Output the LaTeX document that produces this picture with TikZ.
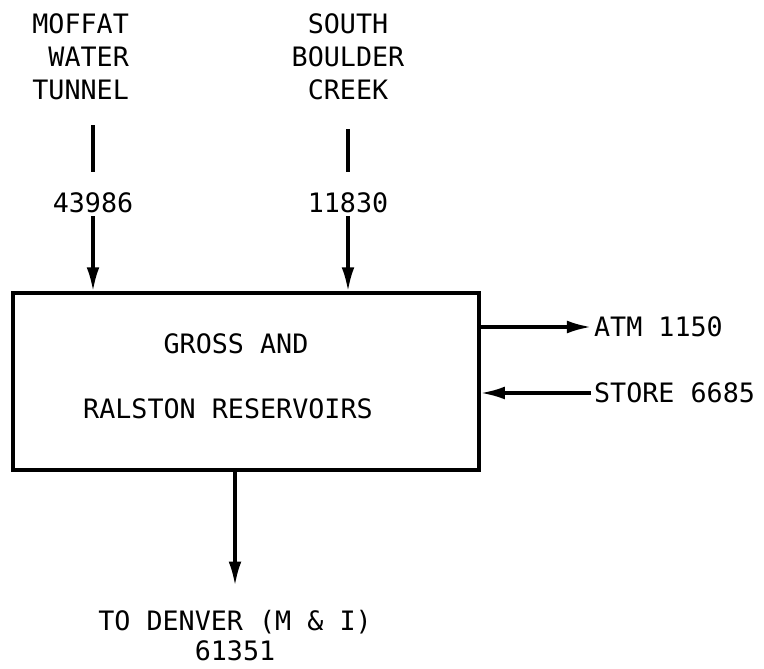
\documentclass[tikz,border=0pt]{standalone}
\usepackage{fontspec}
\usepackage{tikz}
\usetikzlibrary{arrows.meta}
\newfontfamily\typefont{DejaVu Sans Mono}

\tikzset{
    lbl/.style={font=\typefont\fontsize{19}{23.4}\selectfont, inner sep=2pt, align=center},
    pipe/.style={line width=2.2pt},
    flow/.style={line width=2.2pt, -{Latex[length=0.6cm, width=0.32cm]}}
}

\begin{document}
\begin{tikzpicture}[x=0.025cm, y=-0.025cm]
        % Page frame
        \useasboundingbox (0, 0) rectangle (764, 669);

        % Reservoirs
        \node[draw, line width=2.4pt, minimum width=11.65cm, minimum height=4.425cm] (res) at (246, 381.5) {};
        \node[lbl] (gross) at (236, 344) {GROSS AND};
        \node[lbl] (ralston) at (228, 409) {RALSTON RESERVOIRS};

        % Moffat Water Tunnel
        \node[lbl, align=right, anchor=east] (moffat) at (132, 57) {MOFFAT\\WATER\\TUNNEL};
        \node[lbl] (qmoffat) at (93, 203) {43986};
        \draw[pipe, shorten <=0.55cm, shorten >=0.45cm] (moffat.south -| qmoffat) -- (qmoffat);
        \draw[flow] (qmoffat) -- (res.north -| qmoffat);

        % South Boulder Creek
        \node[lbl] (south) at (348, 57) {SOUTH\\BOULDER\\CREEK};
        \node[lbl] (qsouth) at (348, 203) {11830};
        \draw[pipe, shorten <=0.65cm, shorten >=0.45cm] (south.south -| qsouth) -- (qsouth);
        \draw[flow] (qsouth) -- (res.north -| qsouth);

        % Atmosphere
        \node[lbl, anchor=west] (atm) at (591, 327) {ATM 1150};
        \draw[flow] (res.east |- atm) -- (atm.west);

        % Storage
        \node[lbl, anchor=west] (store) at (591, 393) {STORE 6685};
        \draw[flow] (store.west) -- (res.east |- store);

        % Denver
        \node[lbl, font=\typefont\fontsize{19}{21.3}\selectfont] (denver) at (235, 636) {TO DENVER (M \& I)\\61351};
        \draw[flow, shorten >=0.55cm] (res.south -| denver) -- (denver.north);
    \end{tikzpicture}
\end{document}
